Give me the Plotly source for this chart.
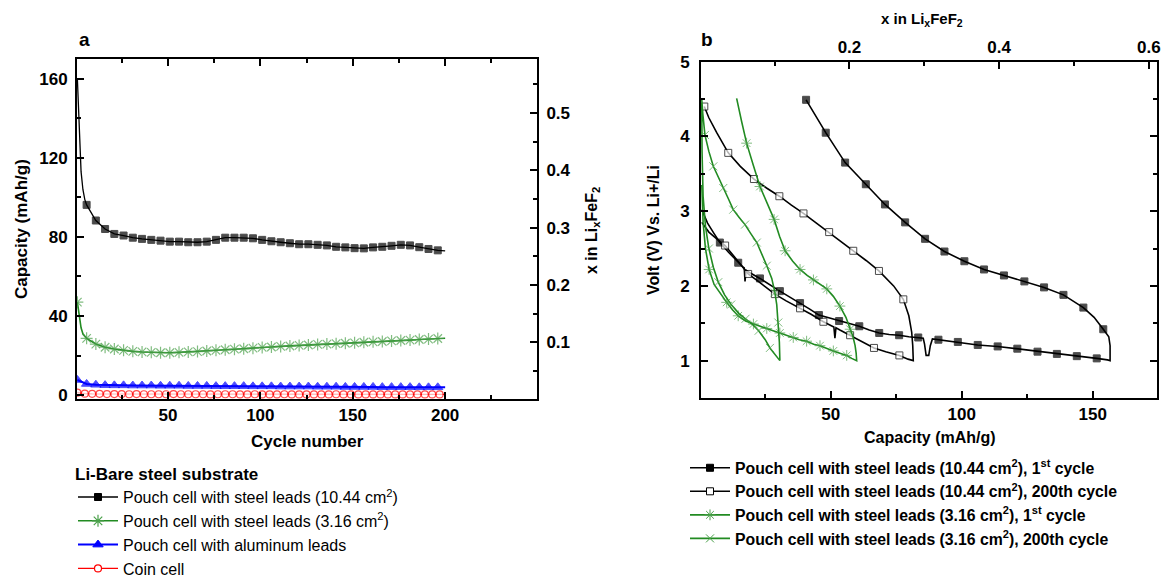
import plotly.graph_objects as go

# ---------------- Panel a : capacity vs cycle number ----------------
cyc_steel_1044 = [1, 2, 3, 4, 5] + list(range(6, 197, 5)) + [200]
cap_steel_1044 = [160, 135, 113, 104, 99,
                  96.2, 88.3, 84.0, 81.5, 80.7, 79.6, 79.0, 78.5, 78.1, 77.6,
                  77.6, 77.3, 77.3, 77.6, 78.5, 79.6, 79.6, 79.6, 79.3, 78.5,
                  77.8, 77.3, 76.8, 76.3, 76.3, 76.0, 75.7, 75.0, 74.7, 74.3,
                  74.2, 74.7, 75.0, 75.5, 76.0, 75.7, 74.8, 73.9, 73.2,
                  72.9]

cyc_steel_316 = [1, 2, 3, 4, 5] + list(range(6, 197, 5)) + [200]
cap_steel_316 = [47, 40, 34, 31, 29.5,
                 28.7, 25.8, 24.2, 23.3, 22.6, 22.1, 21.8, 21.6, 21.4, 21.4,
                 21.6, 21.8, 22.0, 22.3, 22.6, 22.9, 23.2, 23.4, 23.7, 24.1,
                 24.3, 24.6, 24.8, 25.1, 25.3, 25.6, 25.8, 26.0, 26.2, 26.4,
                 26.7, 26.9, 27.1, 27.4, 27.6, 27.8, 28.1, 28.3, 28.6,
                 28.7]

cyc_alu = [1] + list(range(6, 197, 5)) + [200]
cap_alu = [7.6,
           5.6, 5.2, 5.0, 4.9, 4.9, 4.8, 4.8, 4.8, 4.7, 4.7,
           4.7, 4.6, 4.6, 4.6, 4.5, 4.5, 4.5, 4.5, 4.4, 4.4,
           4.4, 4.3, 4.3, 4.3, 4.3, 4.2, 4.2, 4.2, 4.1, 4.1,
           4.1, 4.1, 4.0, 4.0, 4.0, 4.0, 3.9, 3.9, 3.9,
           3.9]

cyc_coin = list(range(1, 198, 4)) + [200]
cap_coin = [1.2, 0.7, 0.6, 0.6, 0.5, 0.5, 0.5, 0.4, 0.5, 0.4,
            0.4, 0.4, 0.4, 0.5, 0.4, 0.4, 0.4, 0.4, 0.3, 0.4,
            0.4, 0.4, 0.3, 0.3, 0.4, 0.3, 0.3, 0.3, 0.4, 0.3,
            0.3, 0.3, 0.3, 0.3, 0.3, 0.4, 0.3, 0.3, 0.3, 0.3,
            0.3, 0.3, 0.3, 0.3, 0.3, 0.3, 0.3, 0.3, 0.3, 0.3, 0.3]

# ---------------- Panel b : voltage profiles ----------------
# (capacity mAh/g, voltage V, 1 = point carries a data symbol)
prof_1044_1st = [
    (0.8, 3.02, 0), (3.0, 2.84, 0), (5.5, 2.70, 0), (7.7, 2.58, 1), (11.0, 2.45, 0),
    (14.7, 2.31, 1), (16.6, 2.25, 0), (17.0, 2.24, 0), (17.3, 2.06, 0), (17.7, 2.21, 0),
    (19.0, 2.18, 0), (23.0, 2.10, 1), (26.8, 2.01, 0), (30.6, 1.93, 1), (34.4, 1.85, 0),
    (38.3, 1.77, 1), (42.0, 1.69, 0), (45.5, 1.61, 1), (49.4, 1.57, 0), (53.2, 1.53, 1),
    (57.0, 1.49, 0), (60.9, 1.46, 1), (64.7, 1.41, 0), (68.5, 1.37, 1), (72.3, 1.35, 0),
    (76.1, 1.34, 1), (79.8, 1.32, 0), (83.4, 1.31, 1), (85.3, 1.30, 0), (85.8, 1.22, 0),
    (86.4, 1.07, 0), (87.4, 1.07, 0), (88.0, 1.20, 0), (88.8, 1.29, 0), (91.1, 1.28, 1),
    (98.5, 1.25, 1), (106.1, 1.21, 1), (113.7, 1.19, 1), (121.2, 1.16, 1), (128.9, 1.12, 1),
    (136.3, 1.09, 1), (143.9, 1.06, 1), (151.5, 1.03, 1), (155.6, 1.01, 0), (156.6, 1.00, 0),
    (156.6, 1.20, 0), (156.1, 1.32, 0), (154.0, 1.42, 1), (150.5, 1.58, 0), (146.4, 1.71, 1),
    (142.6, 1.80, 0), (138.8, 1.88, 1), (131.4, 1.98, 1), (123.9, 2.06, 1), (116.1, 2.14, 1),
    (108.5, 2.22, 1), (101.0, 2.33, 1), (93.4, 2.46, 1), (86.0, 2.63, 1), (78.4, 2.85, 1),
    (70.7, 3.09, 1), (63.4, 3.36, 1), (55.5, 3.65, 1), (48.1, 4.05, 1), (40.6, 4.49, 1),
]
prof_1044_200th = [
    (0.8, 2.85, 0), (3.5, 2.72, 0), (6.5, 2.63, 0), (9.7, 2.54, 1), (13.0, 2.40, 0),
    (16.0, 2.27, 0), (18.5, 2.16, 1), (22.0, 2.07, 0), (25.5, 1.98, 0), (28.7, 1.89, 1),
    (33.0, 1.80, 0), (38.3, 1.70, 1), (42.5, 1.62, 0), (47.2, 1.52, 1), (50.5, 1.46, 0),
    (51.2, 1.45, 0), (51.6, 1.30, 0), (52.0, 1.44, 0), (53.5, 1.41, 0), (57.4, 1.34, 1),
    (62.0, 1.25, 0), (66.5, 1.17, 1), (71.0, 1.12, 0), (76.2, 1.07, 1), (79.5, 1.02, 0),
    (81.5, 1.00, 0), (81.3, 1.20, 0), (80.9, 1.38, 0), (79.8, 1.60, 0), (77.7, 1.82, 1),
    (74.0, 2.00, 0), (68.4, 2.20, 1), (63.5, 2.34, 0), (58.6, 2.47, 1), (54.0, 2.60, 0),
    (49.4, 2.72, 1), (44.5, 2.85, 0), (39.6, 2.97, 1), (35.0, 3.08, 0), (30.4, 3.20, 1),
    (25.5, 3.31, 0), (20.7, 3.43, 1), (15.5, 3.60, 0), (10.9, 3.78, 1), (6.5, 4.05, 0),
    (3.5, 4.25, 0), (1.76, 4.40, 1),
]
prof_316_1st = [
    (0.8, 3.35, 0), (1.3, 2.85, 0), (2.2, 2.50, 0), (3.6, 2.22, 1), (5.5, 2.02, 0),
    (7.8, 1.90, 0), (10.3, 1.78, 1), (12.5, 1.68, 0), (14.7, 1.60, 1), (17.5, 1.53, 0),
    (20.5, 1.49, 1), (23.0, 1.46, 0), (25.6, 1.43, 1), (28.0, 1.40, 0), (30.6, 1.37, 1),
    (33.0, 1.34, 0), (35.7, 1.31, 1), (38.0, 1.28, 0), (40.8, 1.26, 1), (43.5, 1.22, 0),
    (45.9, 1.20, 1), (48.5, 1.16, 0), (51.0, 1.13, 1), (53.5, 1.10, 0), (56.1, 1.07, 1),
    (58.0, 1.03, 0), (59.9, 1.00, 0),
    (59.7, 1.10, 0), (59.3, 1.20, 0), (58.5, 1.32, 0), (57.4, 1.42, 1), (55.8, 1.58, 0),
    (53.5, 1.73, 1), (51.0, 1.86, 0), (48.5, 1.96, 1), (46.0, 2.02, 0), (43.4, 2.08, 1),
    (41.0, 2.14, 0), (38.3, 2.22, 1), (35.5, 2.33, 0), (32.6, 2.47, 1), (30.5, 2.66, 0),
    (28.4, 2.89, 1), (25.7, 3.10, 0), (23.0, 3.33, 1), (20.4, 3.62, 0), (17.9, 3.91, 1),
    (16.0, 4.20, 0), (14.1, 4.51, 0),
]
prof_316_200th = [
    (0.8, 4.45, 0), (0.9, 3.80, 0), (1.3, 3.20, 0), (2.2, 2.80, 0), (3.5, 2.50, 1),
    (5.2, 2.25, 0), (7.1, 2.05, 1), (9.5, 1.88, 0), (12.0, 1.75, 1), (15.0, 1.63, 0),
    (17.5, 1.56, 1), (20.0, 1.49, 0), (22.5, 1.40, 1), (25.0, 1.28, 0), (26.8, 1.17, 1),
    (28.8, 1.08, 0), (30.6, 1.00, 0),
    (30.4, 1.25, 0), (30.0, 1.51, 1), (29.4, 1.75, 0), (28.7, 1.91, 1), (27.5, 2.10, 0),
    (25.6, 2.27, 1), (23.7, 2.42, 0), (21.8, 2.58, 1), (19.5, 2.70, 0), (17.3, 2.82, 1),
    (15.0, 2.92, 0), (12.8, 3.02, 1), (10.9, 3.17, 0), (9.0, 3.31, 1), (7.0, 3.45, 0),
    (5.2, 3.60, 1), (3.5, 3.80, 0), (2.0, 4.02, 1), (1.2, 4.30, 0), (0.8, 4.49, 0),
]

# capacity (mAh/g) corresponding to x = 1 in LixFeF2 (top axis of panel b)
CAP_PER_LI = 285.7

# ---------------- figure ----------------
W, H = 1163, 576
FONT = "Liberation Sans, Arial, sans-serif"
GREEN = "#228b22"
GREEN_M = "#4aa04a"


def px(x):
    return x / W


def py(y):
    return 1 - y / H


fig = go.Figure()


def sizes(flags, s):
    return [s if f else 0 for f in flags]


def add_series(x, y, flags, name, color, lw, symbol, msize, mfill, mline, mlw,
               xa, ya, legend):
    fig.add_trace(go.Scatter(
        x=x, y=y, mode="lines+markers", showlegend=False, xaxis=xa, yaxis=ya,
        line=dict(color=color, width=lw),
        marker=dict(symbol=symbol, size=sizes(flags, msize), color=mfill,
                    line=dict(color=mline, width=mlw)),
        hoverinfo="skip"))
    fig.add_trace(go.Scatter(
        x=[None], y=[None], mode="lines+markers", name=name, legend=legend,
        xaxis=xa, yaxis=ya,
        line=dict(color=color, width=lw),
        marker=dict(symbol=symbol, size=msize, color=mfill,
                    line=dict(color=mline, width=mlw))))


# panel a
flag_a = [1 if (c >= 6 and (c - 1) % 5 == 0) else 0 for c in cyc_steel_1044]
add_series(cyc_steel_1044, cap_steel_1044, flag_a,
           "Pouch cell with steel leads (10.44 cm<sup>2</sup>)",
           "black", 1.3, "square", 7, "black", "black", 1, "x", "y", "legend")
flag_g = [1 if (c == 1 or (c >= 6 and (c - 1) % 5 == 0)) else 0 for c in cyc_steel_316]
add_series(cyc_steel_316, cap_steel_316, flag_g,
           "Pouch cell with steel leads (3.16 cm<sup>2</sup>)",
           GREEN, 1.6, "asterisk-open", 10, GREEN_M, GREEN_M, 1.2, "x", "y", "legend")
flag_b = [1 if c != 200 else 0 for c in cyc_alu]
add_series(cyc_alu, cap_alu, flag_b, "Pouch cell with aluminum leads",
           "#0000ff", 2, "triangle-up", 9, "#0000ff", "#0000ff", 1, "x", "y", "legend")
flag_r = [1 if c != 200 else 0 for c in cyc_coin]
add_series(cyc_coin, cap_coin, flag_r, "Coin cell",
           "#ff0000", 1.3, "circle", 7, "white", "#ff0000", 1.2, "x", "y", "legend")

# right axis of panel a (for ticks only)
fig.add_trace(go.Scatter(x=[None], y=[None], xaxis="x", yaxis="y2", showlegend=False))

# panel b
for prof, name, color, symbol, msize, mfill, mline in [
    (prof_1044_1st, "Pouch cell with steel leads (10.44 cm<sup>2</sup>), 1<sup>st</sup> cycle",
     "black", "square", 7, "black", "black"),
    (prof_1044_200th, "Pouch cell with steel leads (10.44 cm<sup>2</sup>), 200th cycle",
     "black", "square", 7, "white", "black"),
    (prof_316_1st, "Pouch cell with steel leads (3.16 cm<sup>2</sup>), 1<sup>st</sup> cycle",
     GREEN, "asterisk-open", 9, GREEN_M, GREEN_M),
    (prof_316_200th, "Pouch cell with steel leads (3.16 cm<sup>2</sup>), 200th cycle",
     GREEN, "x-thin-open", 8, GREEN_M, GREEN_M),
]:
    cx = [p[0] for p in prof]
    vy = [p[1] for p in prof]
    fl = [p[2] for p in prof]
    add_series(cx, vy, fl, name, color, 1.6, symbol, msize, mfill, mline, 1,
               "x3", "y3", "legend2")

fig.add_trace(go.Scatter(x=[None], y=[None], xaxis="x4", yaxis="y3", showlegend=False))

tickfont = dict(family=FONT, size=17, color="black", weight="bold")
axcommon = dict(showline=True, linecolor="black", linewidth=2, ticks="inside",
                ticklen=7, tickwidth=2, tickcolor="black", showgrid=False,
                zeroline=False, tickfont=tickfont)
minor_common = dict(ticks="inside", ticklen=4, tickwidth=1.5, tickcolor="black",
                    showgrid=False)

xa_range = [0.8, 249.7]
xb_range = [0.5, 174.5]

fig.update_layout(
    width=W, height=H, autosize=False,
    margin=dict(l=0, r=0, t=0, b=0, autoexpand=False),
    paper_bgcolor="white", plot_bgcolor="white",
    font=dict(family=FONT, color="black"),
    xaxis=dict(domain=[px(77), px(537)], range=xa_range, anchor="y",
               mirror="ticks", dtick=50, tick0=0,
               minor=dict(dtick=25, **minor_common), **axcommon),
    yaxis=dict(domain=[py(399), py(59)], range=[-2, 170], anchor="x",
               mirror=True, dtick=40, tick0=0, ticklabelstandoff=4,
               minor=dict(dtick=20, **minor_common), **axcommon),
    yaxis2=dict(overlaying="y", side="right", anchor="x", range=[0.001, 0.594],
                dtick=0.1, tick0=0, ticklabelstandoff=4,
                minor=dict(dtick=0.05, **minor_common), **axcommon),
    xaxis3=dict(domain=[px(701), px(1157)], range=xb_range, anchor="y3",
                dtick=50, tick0=0, minor=dict(dtick=25, **minor_common), **axcommon),
    xaxis4=dict(overlaying="x3", side="top", anchor="y3",
                range=[xb_range[0] / CAP_PER_LI, xb_range[1] / CAP_PER_LI],
                dtick=0.2, tick0=0, minor=dict(dtick=0.1, **minor_common), **axcommon),
    yaxis3=dict(domain=[py(398), py(61.7)], range=[0.5, 5], anchor="x3",
                mirror="ticks", dtick=1, tick0=0, ticklabelstandoff=6,
                minor=dict(dtick=0.5, **minor_common), **axcommon),
    legend=dict(x=px(73), y=py(458), xanchor="left", yanchor="top",
                bgcolor="rgba(0,0,0,0)", itemwidth=40,
                title=dict(text="<b>Li-Bare steel substrate</b>",
                           font=dict(family=FONT, size=17, color="black")),
                font=dict(family=FONT, size=16, color="black"),
                tracegroupgap=0),
    legend2=dict(x=px(685), y=py(451), xanchor="left", yanchor="top",
                 bgcolor="rgba(0,0,0,0)", itemwidth=40,
                 font=dict(family=FONT, size=15.8, color="black", weight="bold"),
                 tracegroupgap=0),
)

annots = [
    dict(text="a", x=px(84), y=py(39), font=dict(size=19)),
    dict(text="b", x=px(707), y=py(39), font=dict(size=19)),
    dict(text="Capacity (mAh/g)", x=px(21), y=py(229), textangle=-90, font=dict(size=17)),
    dict(text="Cycle number", x=px(307), y=py(441), font=dict(size=17)),
    dict(text="x in Li<sub>x</sub>FeF<sub>2</sub>", x=px(592), y=py(231), textangle=-90,
         font=dict(size=16)),
    dict(text="Volt (V) Vs. Li+/Li", x=px(653), y=py(230), textangle=-90, font=dict(size=16)),
    dict(text="Capacity (mAh/g)", x=px(930), y=py(437), font=dict(size=16)),
    dict(text="x in Li<sub>x</sub>FeF<sub>2</sub>", x=px(922), y=py(20), font=dict(size=15)),
]
for a in annots:
    f = dict(family=FONT, color="black", weight="bold")
    f.update(a.pop("font"))
    fig.add_annotation(xref="paper", yref="paper", xanchor="center", yanchor="middle",
                       showarrow=False, font=f, **a)

fig.write_html(
    "out.html",
    config={"displayModeBar": False, "responsive": False},
    post_script=("document.documentElement.style.margin='0';"
                 "document.body.style.margin='0';"
                 "document.documentElement.style.overflow='hidden';"
                 "document.body.style.overflow='hidden';"),
)
